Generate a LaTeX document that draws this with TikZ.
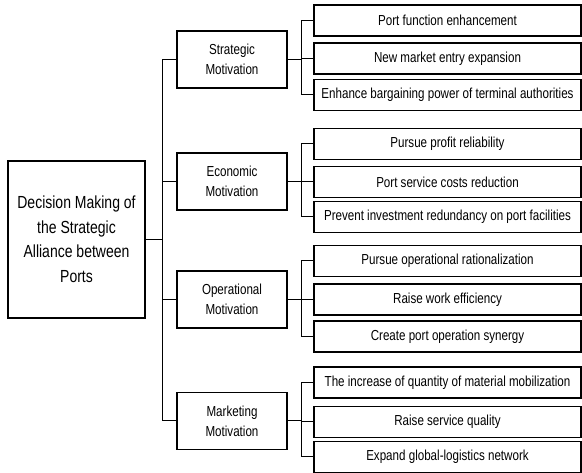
\documentclass[tikz,border=0pt]{standalone}
\usepackage{fontspec}
\setmainfont{Liberation Sans}[FakeStretch=0.8]
\tikzset{
  rootbox/.style={draw, line width=1.3pt, minimum width=137pt, minimum height=157pt,
    inner sep=0pt, align=center, font=\fontsize{17.5}{24.5}\selectfont},
  motivbox/.style={draw, line width=1.3pt, minimum width=110pt, minimum height=57pt,
    inner sep=0pt, align=center, font=\fontsize{14.5}{20}\selectfont},
  leafbox/.style={draw, line width=1.3pt, minimum width=267pt, minimum height=31pt,
    inner sep=0pt, align=center, font=\fontsize{14.5}{18}\selectfont},
  branch/.style={line width=1pt}
}
\begin{document}
\begin{tikzpicture}[x=1pt, y=1pt]
  \useasboundingbox (0,0) rectangle (582,473);
  % 根：决策
  \node[rootbox] (root) at (76.5,233.5) {Decision Making of\\the Strategic\\Alliance between\\Ports};

  % 四个动机
  \node[motivbox] (strat) at (232,413.5) {Strategic\\Motivation};
  \node[motivbox] (econ)  at (232,291.5) {Economic\\Motivation};
  \node[motivbox] (oper)  at (232,173.5) {Operational\\Motivation};
  \node[motivbox] (mkt)   at (232,52)    {Marketing\\Motivation};

  % Strategic 的子项
  \node[leafbox] (s1) at (447.5,452.5) {Port function enhancement};
  \node[leafbox] (s2) at (447.5,414.5) {New market entry expansion};
  \node[leafbox] (s3) at (447.5,378)   {Enhance bargaining power of terminal authorities};

  % Economic 的子项
  \node[leafbox] (e1) at (447.5,329)   {Pursue profit reliability};
  \node[leafbox] (e2) at (447.5,291)   {Port service costs reduction};
  \node[leafbox] (e3) at (447.5,256)   {Prevent investment redundancy on port facilities};

  % Operational 的子项
  \node[leafbox] (o1) at (447.5,212)   {Pursue operational rationalization};
  \node[leafbox] (o2) at (447.5,173.5) {Raise work efficiency};
  \node[leafbox] (o3) at (447.5,136.5) {Create port operation synergy};

  % Marketing 的子项
  \node[leafbox] (k1) at (447.5,90.5)  {The increase of quantity of material mobilization};
  \node[leafbox] (k2) at (447.5,51)    {Raise service quality};
  \node[leafbox] (k3) at (447.5,16)    {Expand global-logistics network};

  % 连线：根 -> 动机
  \foreach \m in {strat,econ,oper,mkt}
    \draw[branch] (root.east) -- ++(17,0) |- (\m.west);

  % 连线：动机 -> 子项
  \foreach \m/\a/\b/\c in {strat/s1/s2/s3, econ/e1/e2/e3, oper/o1/o2/o3, mkt/k1/k2/k3}
    \foreach \l in {\a,\b,\c}
      \draw[branch] (\m.east) -- ++(14,0) |- (\l.west);
\end{tikzpicture}
\end{document}
